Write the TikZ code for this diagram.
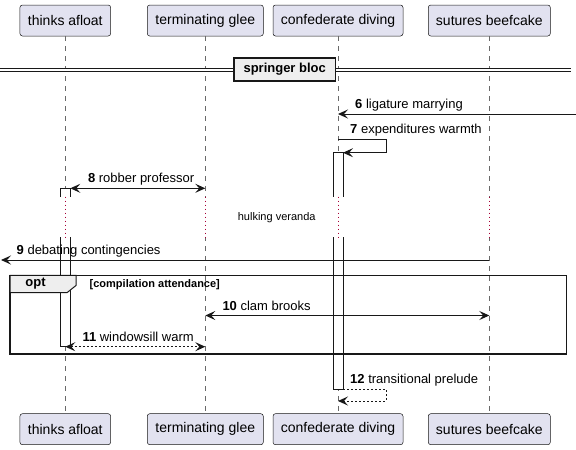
\documentclass[tikz,border=0pt]{standalone}
\usepackage{fontspec}
\setmainfont{Liberation Sans}
\usetikzlibrary{arrows.meta, calc, positioning}
\definecolor{ink}{HTML}{181818}
\definecolor{partfill}{HTML}{E2E2F0}
\definecolor{grpfill}{HTML}{EEEEEE}
\definecolor{dlycol}{HTML}{A80036}
\tikzstyle{part}=[draw=ink,fill=partfill,rounded corners=2.5pt,line width=0.5pt,minimum height=31pt,inner sep=0pt,font=\fontsize{14}{16}\selectfont]
\tikzstyle{life}=[ink!65,line width=0.6pt,dash pattern=on 5pt off 5pt]
\tikzstyle{actbar}=[draw=ink,fill=white,line width=0.8pt]
\tikzstyle{dly}=[dlycol,line width=1pt,dash pattern=on 1pt off 3pt]
\tikzstyle{msg}=[ink,line width=1pt]
\tikzstyle{rtn}=[dash pattern=on 2pt off 2pt]
\tikzstyle{lbl}=[anchor=base west,inner sep=0pt,font=\fontsize{13}{15}\selectfont]

\begin{document}
\begin{tikzpicture}[x=1pt,y=-1pt,>={Stealth[length=10pt,width=9pt,inset=4pt]}]
\useasboundingbox (0,0) rectangle (576,450);
% rows of the messages
\foreach \n/\y in {r6/114, r7/139.3, s7/152.7, r8/188.3, d1/196.5, d2/237, r9/260, r10/315.5, r11/346.7, r12/389.3, s12/401}
    \coordinate (\n) at (0,\y);
\coordinate (rgt) at (576,114);
\coordinate (lft) at (1,260);
% participants, top and bottom, and lifelines
\foreach \n/\x/\w/\t in {ta/65.3/90.7/thinks afloat, tg/205.3/116/terminating glee, cd/338/130/confederate diving, sb/489.3/122/sutures beefcake} {
    \node[part,minimum width=\w] (\n) at (\x,20.5) {\t};
    \node[part,minimum width=\w] (b\n) at (\x,429.2) {\t};
    \draw[life] (\n) -- (b\n);}
% divider
\draw[ink,line width=0.8pt,double distance=2.6pt] (0,70) -- (571,70);
\node[draw=ink,fill=grpfill,line width=1.8pt,minimum width=101.5pt,minimum height=23pt,inner sep=0pt,font=\bfseries\fontsize{13}{15}\selectfont] (sep) at (284.7,69.5) {springer bloc};
% activations
\draw[actbar] ($(cd |- s7)+(-5,0)$) rectangle ($(cd |- r12)+(5,0)$);
\draw[actbar] ($(ta |- r8)+(-5,0)$) rectangle ($(ta |- r11)+(5,0)$);
% delay
\fill[white] ($(d1)+(40,0)$) rectangle ($(d2)+(520,0)$);
\foreach \n in {ta,tg,cd,sb} \draw[dly] (\n |- d1) -- (\n |- d2);
\node[inner sep=0pt,font=\fontsize{11}{13}\selectfont] (dl) at (276.7,217.7) {hulking veranda};
% opt group
\draw[ink,line width=1.5pt] (10,275.3) rectangle (566.7,354);
\filldraw[fill=grpfill,draw=ink,line width=1pt] (10,275.3) -- (76,275.3) -- (76,285.5) -- (67,292.7) -- (10,292.7) -- cycle;
\node[inner sep=0pt,font=\bfseries\fontsize{13}{15}\selectfont] (gopt) at (35.5,284) {opt};
\node[anchor=west,inner sep=0pt,font=\bfseries\fontsize{11}{13}\selectfont] (gcond) at (89.5,284.5) {[compilation attendance]};
% messages
\draw[msg,->] (rgt) -- (cd |- r6);
\node[lbl] (l6) at ($(cd |- r6)+(17,-5.5)$) {\textbf{6} ligature marrying};
\draw[msg,->] (cd |- r7) -| ($(cd |- s7)+(48,0)$) -- ($(cd |- s7)+(5,0)$);
\node[lbl] (l7) at ($(cd |- r7)+(12,-5.5)$) {\textbf{7} expenditures warmth};
\draw[msg,<->] ($(ta |- r8)+(5,0)$) -- (tg |- r8);
\node[lbl] (l8) at ($(ta |- r8)+(22.5,-5.5)$) {\textbf{8} robber professor};
\draw[msg,->] (sb |- r9) -- (lft);
\node[lbl] (l9) at ($(lft)+(15.5,-5.5)$) {\textbf{9} debating contingencies};
\draw[msg,<->] (tg |- r10) -- (sb |- r10);
\node[lbl] (l10) at ($(tg |- r10)+(17,-5.5)$) {\textbf{10} clam brooks};
\draw[msg,rtn,<->] (ta |- r11) -- (tg |- r11);
\node[lbl] (l11) at ($(ta |- r11)+(17,-5.5)$) {\textbf{11} windowsill warm};
\draw[msg,rtn,->] ($(cd |- r12)+(5,0)$) -| ($(cd |- s12)+(48,0)$) -- (cd |- s12);
\node[lbl] (l12) at ($(cd |- r12)+(12,-5.5)$) {\textbf{12} transitional prelude};
\end{tikzpicture}
\end{document}
